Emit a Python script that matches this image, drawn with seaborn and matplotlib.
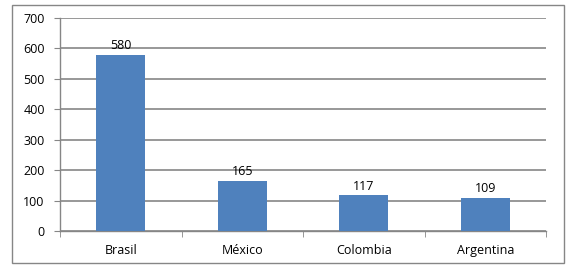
import numpy as np
import pandas as pd
import matplotlib
matplotlib.use('Agg')
import matplotlib.pyplot as plt
import seaborn as sns
from matplotlib.patches import Rectangle

paises  = ['Brasil', 'México', 'Colombia', 'Argentina']
valores = [580, 165, 117, 109]
yticks  = [0, 100, 200, 300, 400, 500, 600, 700]

df = pd.DataFrame({'pais': paises, 'valor': valores})

sns.set_style('white')
plt.rcParams['font.family'] = ['Open Sans', 'DejaVu Sans']

fig = plt.figure(figsize=(5.78, 2.70), dpi=100)
ax = fig.add_axes([60/578, 39/270, 486/578, 213/270])

sns.barplot(data=df, x='pais', y='valor', color='#4F81BD', saturation=1,
            width=0.4, linewidth=0, ax=ax, zorder=3)

ax.set_ylim(0, 700)
ax.set_yticks(yticks)
ax.set_xlim(-0.5, len(paises) - 0.5)
ax.set_xlabel('')
ax.set_ylabel('')
ax.grid(axis='y', color='#868686', linewidth=1.2, zorder=0)

for s in ['top', 'right']:
    ax.spines[s].set_visible(False)
for s in ['left', 'bottom']:
    ax.spines[s].set_color('#868686')
    ax.spines[s].set_linewidth(1.0)

ax.tick_params(axis='y', length=4, color='#868686', labelsize=9, pad=7, left=True,
               labelcolor='black')
ax.tick_params(axis='x', bottom=False, labelsize=9, pad=6, labelcolor='black')
# category separator ticks
ax.set_xticks(np.arange(len(paises) + 1) - 0.5, minor=True)
ax.tick_params(axis='x', which='minor', bottom=True, length=4, color='#868686')

for i, v in enumerate(valores):
    ax.text(i, v + 8, str(v), ha='center', va='bottom', fontsize=9, color='black')

fig.patches.append(Rectangle((12/578, 7/270), 552/578, 258/270, transform=fig.transFigure,
                             fill=False, edgecolor='#868686', linewidth=1.0))

fig.savefig('out.png', dpi=100)
